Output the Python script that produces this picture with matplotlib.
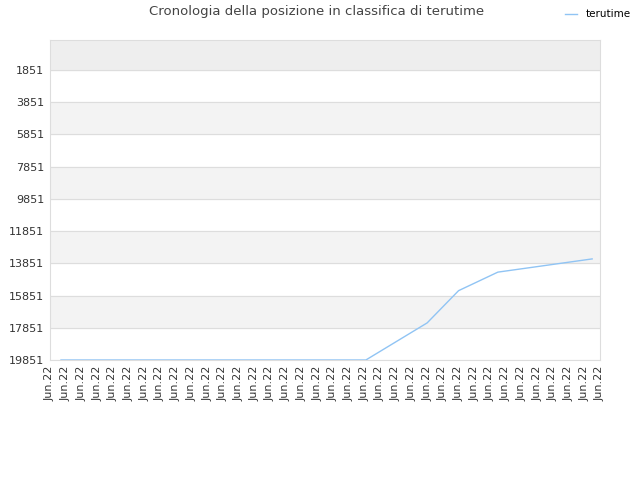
import matplotlib
matplotlib.use("Agg")
import matplotlib.pyplot as plt

ticks_labels = ["Jun.22"] * 36
yticks = [1851, 3851, 5851, 7851, 9851, 11851, 13851, 15851, 17851, 19851]
xs = [0.7, 20.1, 24.0, 26.0, 28.5, 34.5]
ranks = [19851, 19851, 17550, 15550, 14400, 13580]

fig = plt.figure(figsize=(6.4, 4.8), dpi=100)
ax = fig.add_axes([50/640, 1-360/480, 550/640, 320/480])
ax.set_xlim(0, 35)
ax.set_ylim(19851, 0)
ax.axhspan(0, 1851, color="#eeeeee", zorder=0)
for i in range(len(yticks) - 1):
    if i % 2 == 1:
        ax.axhspan(yticks[i], yticks[i+1], color="#f3f3f3", zorder=0)
for y in yticks:
    ax.axhline(y, color="#dddddd", lw=0.8, zorder=1)
ax.plot(xs, ranks, color="#90c4f4", lw=1, label="terutime", zorder=3)
ax.set_yticks(yticks)
ax.set_yticklabels([str(v) for v in yticks], fontsize=8, color="#333333")
ax.set_xticks(range(36))
ax.set_xticklabels(ticks_labels, rotation=90, fontsize=8, color="#333333")
ax.tick_params(length=0, pad=4)
for s in ax.spines.values():
    s.set_color("#dddddd")
fig.text(0.495, 1-12/480, "Cronologia della posizione in classifica di terutime",
         ha="center", va="center", fontsize=9.5, color="#444444")
fig.legend(loc="upper right", bbox_to_anchor=(1.0, 1.0), frameon=False,
           fontsize=7.5, handlelength=1.2)
fig.savefig("out.png")
